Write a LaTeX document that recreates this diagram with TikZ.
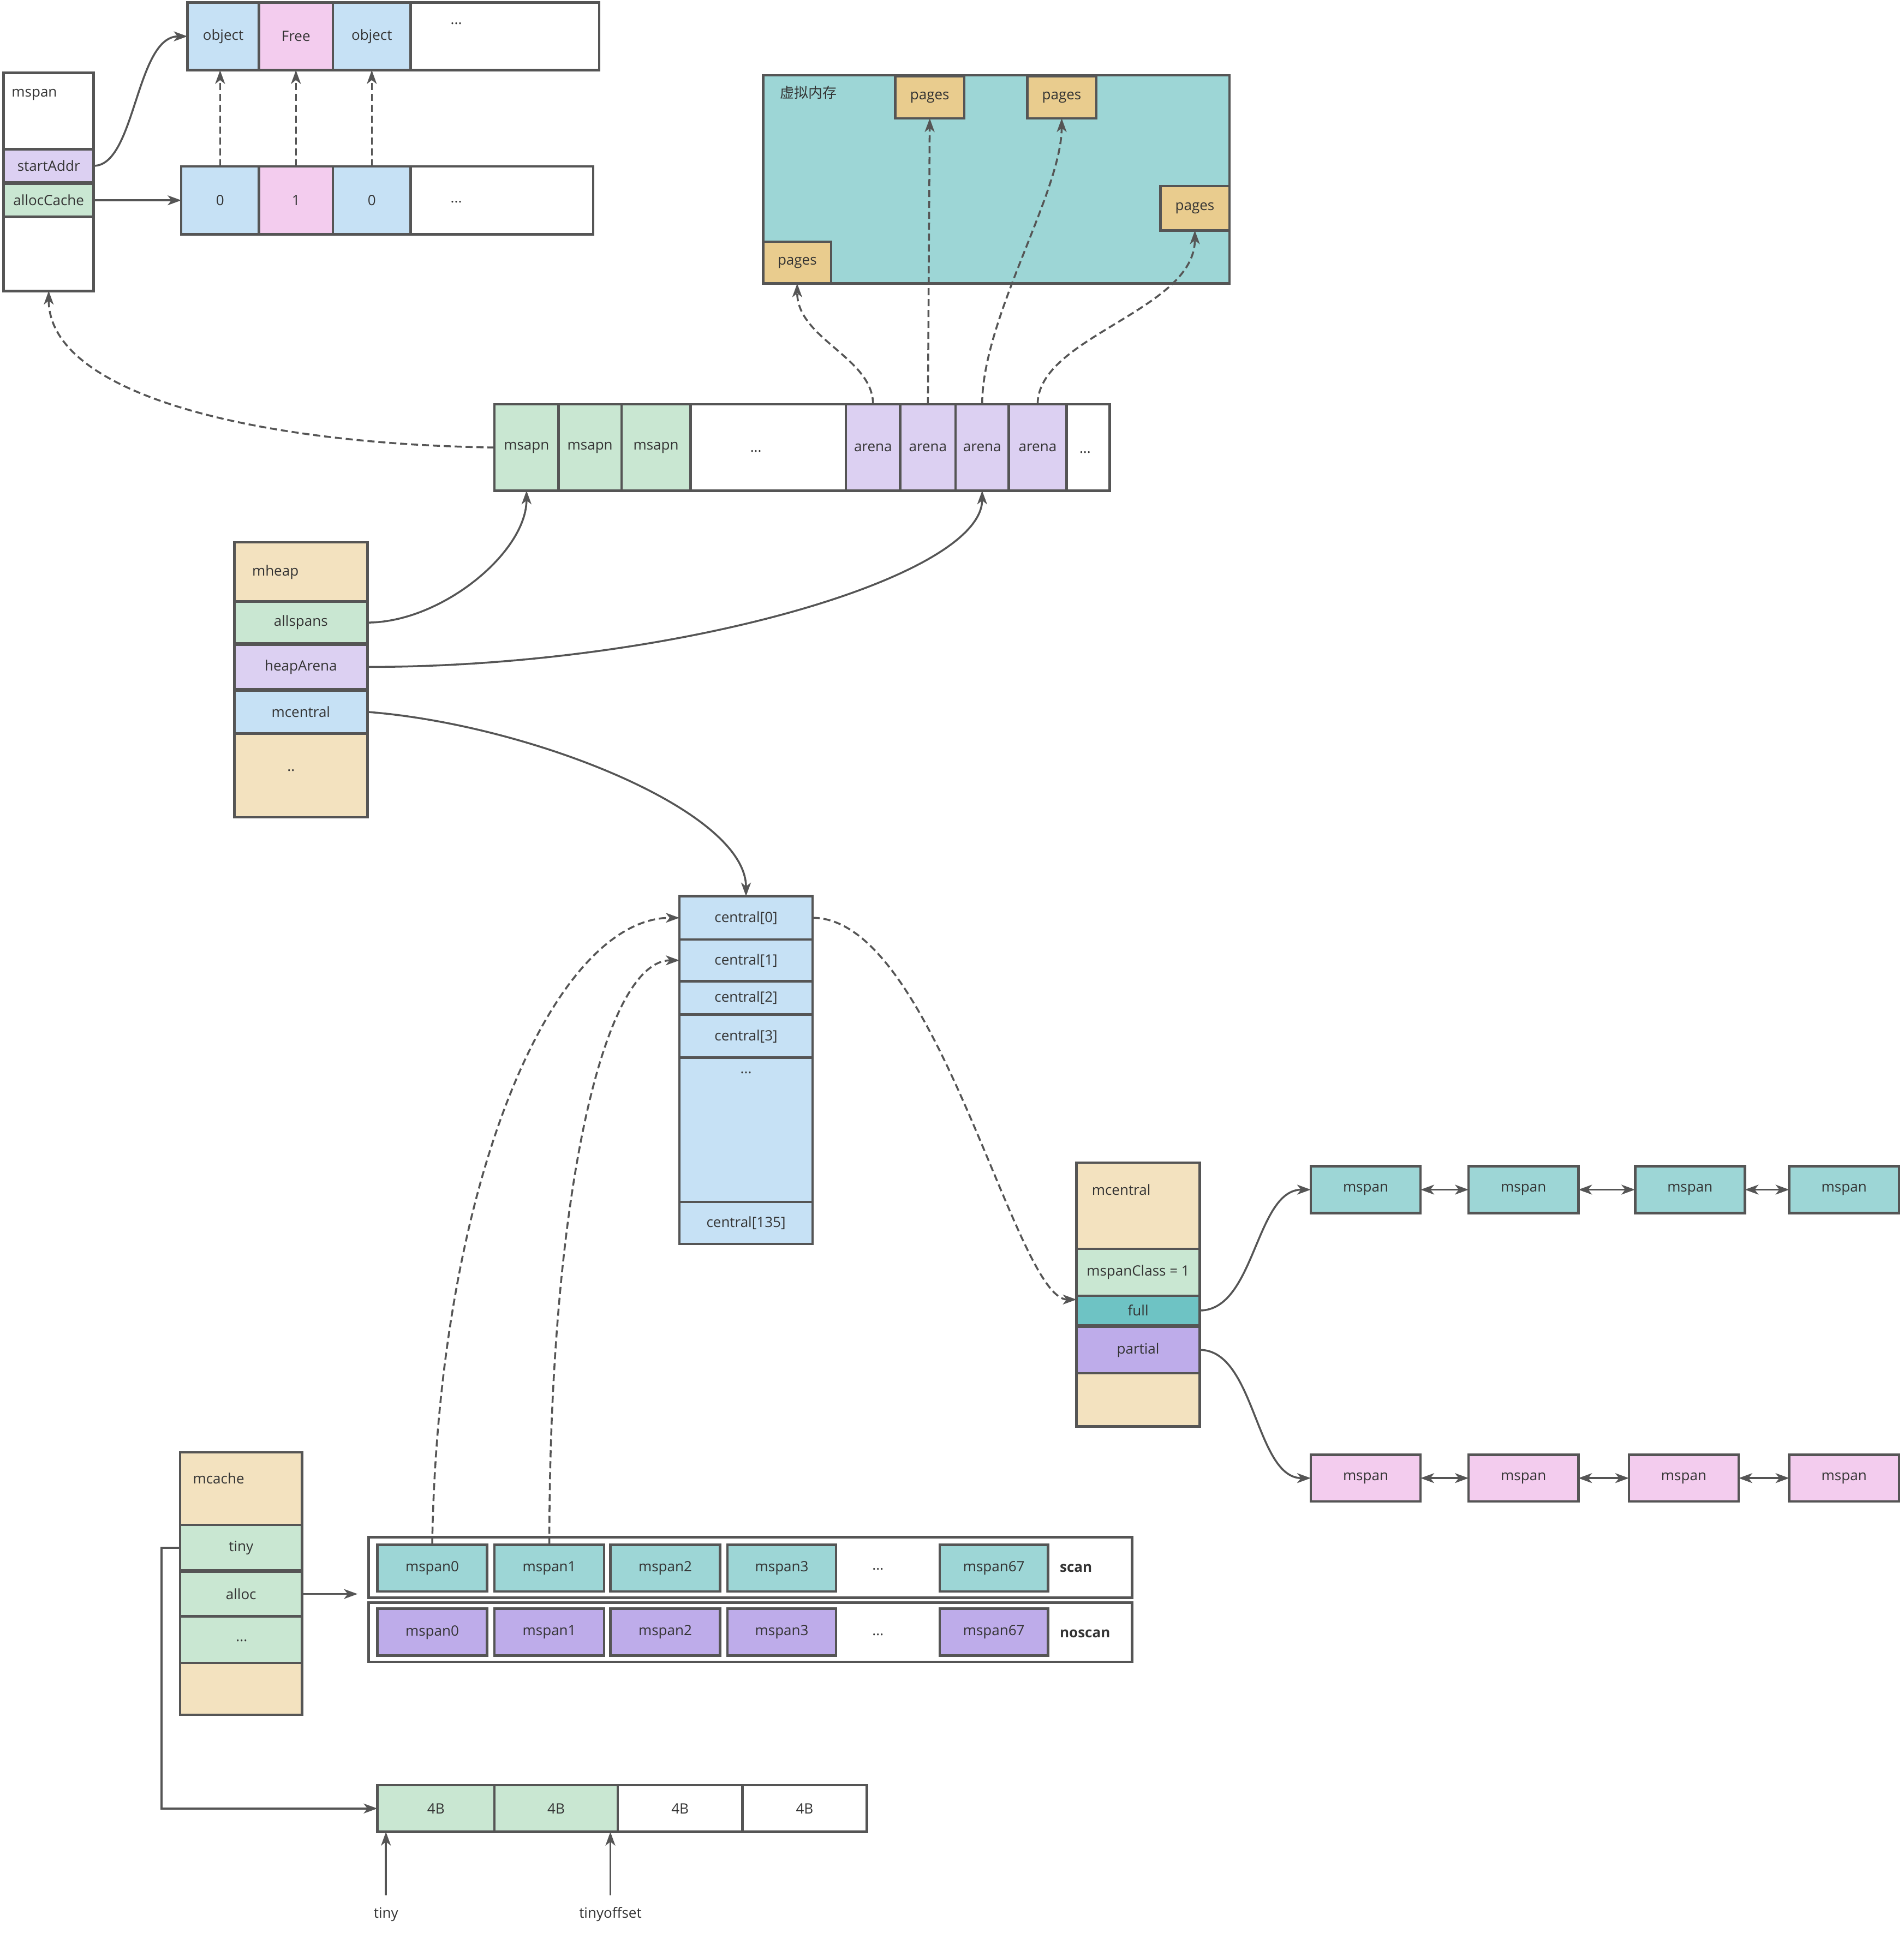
\documentclass[tikz,border=0pt]{standalone}
\usepackage{fontspec}
\setmainfont{Open Sans}
\newfontfamily\cjkfont{Noto Sans CJK SC}
\usetikzlibrary{arrows.meta}
\definecolor{ln}{HTML}{555555}
\definecolor{txt}{HTML}{333333}
\definecolor{cblue}{HTML}{C6E1F5}
\definecolor{cpink}{HTML}{F3CCEE}
\definecolor{cgreen}{HTML}{C9E7D2}
\definecolor{cpurl}{HTML}{DCD0F2}
\definecolor{cbeige}{HTML}{F3E2BF}
\definecolor{cteal}{HTML}{9DD6D6}
\definecolor{cdteal}{HTML}{6EC3C4}
\definecolor{cmpur}{HTML}{BEACEA}
\definecolor{cpage}{HTML}{E9CC8E}
\newcommand\mybox[7]{\node[boxst,fill=#6,minimum width={(#4-#2)*0.2259mm},minimum height={(#5-#3)*0.2259mm}] (#1) at ({(#2+#4)/2},{(#3+#5)/2}) {#7};}
\tikzset{
  boxst/.style={draw=ln,line width=1.3pt,inner sep=0pt,outer sep=0pt,rectangle},
  conn/.style={draw=ln,line width=1pt,-{Stealth[length=2.5mm,width=1.8mm,inset=0.7mm]}},
  dconn/.style={conn,dash pattern=on 1.3mm off 0.7mm},
  dbl/.style={draw=ln,line width=1pt,{Stealth[length=2.5mm,width=1.8mm,inset=0.7mm]}-{Stealth[length=2.5mm,width=1.8mm,inset=0.7mm]}},
  boldlbl/.style={anchor=west,font=\fontsize{7.4}{9}\selectfont\bfseries}
}
\begin{document}
\begin{tikzpicture}[x=0.2259mm,y=-0.2259mm,font=\fontsize{7.4}{9}\selectfont,text=txt]
\useasboundingbox (0,0) rectangle (1544,1568);
% ---------- top-left mspan ----------
\mybox{msp}{3}{59}{76}{236}{white}{}
\node[anchor=west] (msplbl) at (4,77) {mspan};
\mybox{sa}{3}{121}{76}{148}{cpurl}{startAddr}
\mybox{ac}{3}{149}{76}{176}{cgreen}{allocCache}
% object bar
\mybox{o1}{152}{2}{210}{57}{cblue}{object}
\mybox{o2}{210}{2}{270}{57}{cpink}{Free}
\mybox{o3}{270}{2}{333}{57}{cblue}{object}
\mybox{o4}{333}{2}{486}{57}{white}{}
\node (odots) at (370,19) {...};
% bit bar
\mybox{b1}{147}{135}{210}{190}{cblue}{0}
\mybox{b2}{210}{135}{270}{190}{cpink}{1}
\mybox{b3}{270}{135}{333}{190}{cblue}{0}
\mybox{b4}{333}{135}{481}{190}{white}{}
\node (bdots) at (370,164) {...};
\draw[dconn] (b1.north) -- (b1.north |- o1.south);
\draw[dconn] (b2.north) -- (b2.north |- o2.south);
\draw[dconn] (b3.north) -- (b3.north |- o3.south);
\draw[conn] (sa.east) .. controls +(34,0) and +(-42,0) .. (o1.west);
\draw[conn] (ac.east) -- (b1.west);
% ---------- virtual memory ----------
\mybox{vm}{619}{61}{997}{230}{cteal}{}
\node[anchor=west,font={\fontsize{7.4}{9}\cjkfont}] (vmlbl) at (627,75) {虚拟内存};
\mybox{pg1}{726}{62}{782}{96}{cpage}{pages}
\mybox{pg2}{833}{62}{889}{96}{cpage}{pages}
\mybox{pg3}{941}{151}{997}{187}{cpage}{pages}
\mybox{pg4}{619}{196}{674}{230}{cpage}{pages}
% ---------- middle array ----------
\mybox{ma1}{401}{328}{453}{398}{cgreen}{msapn}
\mybox{ma2}{453}{328}{504}{398}{cgreen}{msapn}
\mybox{ma3}{504}{328}{560}{398}{cgreen}{msapn}
\mybox{md1}{560}{328}{686}{398}{white}{}
\node (mddots) at (613,366) {...};
\mybox{ar1}{686}{328}{730}{398}{cpurl}{arena}
\mybox{ar2}{730}{328}{775}{398}{cpurl}{arena}
\mybox{ar3}{775}{328}{818}{398}{cpurl}{arena}
\mybox{ar4}{818}{328}{865}{398}{cpurl}{arena}
\mybox{md2}{865}{328}{900}{398}{white}{}
\node (md2dots) at (880,367) {...};
\draw[dconn] (ma1.west) .. controls +(-201,-3) and +(0,82) .. (msp.south);
\draw[dconn] (ar1.north) .. controls +(0,-38) and +(0,45) .. (pg4.south);
\draw[dconn] (ar2.north) -- (pg1.south);
\draw[dconn] (ar3.north) .. controls +(0,-70) and +(0,60) .. (pg2.south);
\draw[dconn] (ar4.north) .. controls +(0,-55) and +(0,65) .. (pg3.south);
% ---------- mheap ----------
\mybox{mh}{190}{440}{298}{663}{cbeige}{}
\node[anchor=west] (mhlbl) at (199,464) {mheap};
\mybox{als}{190}{488}{298}{522}{cgreen}{allspans}
\mybox{ha}{190}{523}{298}{559}{cpurl}{heapArena}
\mybox{mcf}{190}{560}{298}{595}{cblue}{mcentral}
\node (mhdots) at (236,625) {..};
\draw[conn] (als.east) .. controls +(60,0) and +(0,50) .. (ma1.south);
\draw[conn] (ha.east) .. controls +(250,0) and +(0,70) .. (ar3.south);
% ---------- central array ----------
\mybox{c0}{551}{727}{659}{762}{cblue}{central[0]}
\mybox{c1}{551}{762}{659}{796}{cblue}{central[1]}
\mybox{c2}{551}{796}{659}{823}{cblue}{central[2]}
\mybox{c3}{551}{823}{659}{858}{cblue}{central[3]}
\mybox{cd}{551}{858}{659}{975}{cblue}{}
\node (cdots) at (605,870) {...};
\mybox{c135}{551}{975}{659}{1009}{cblue}{central[135]}
\draw[conn] (mcf.east) .. controls +(130,10) and +(0,-70) .. (c0.north);
% ---------- mcentral (right) ----------
\mybox{mcr}{873}{943}{973}{1157}{cbeige}{}
\node[anchor=west] (mcrlbl) at (880,965) {mcentral};
\mybox{msc}{873}{1013}{973}{1051}{cgreen}{mspanClass = 1}
\mybox{full}{873}{1051}{973}{1075}{cdteal}{full}
\mybox{part}{873}{1076}{973}{1114}{cmpur}{partial}
\draw[dconn] (c0.east) .. controls +(100,0) and +(-50,0) .. ([yshift=2mm]full.west);
% full list
\mybox{fl1}{1063}{946}{1152}{984}{cteal}{mspan}
\mybox{fl2}{1191}{946}{1280}{984}{cteal}{mspan}
\mybox{fl3}{1326}{946}{1415}{984}{cteal}{mspan}
\mybox{fl4}{1451}{946}{1540}{984}{cteal}{mspan}
\draw[dbl] (fl1.east) -- (fl2.west);
\draw[dbl] (fl2.east) -- (fl3.west);
\draw[dbl] (fl3.east) -- (fl4.west);
% partial list
\mybox{pl1}{1063}{1180}{1152}{1218}{cpink}{mspan}
\mybox{pl2}{1191}{1180}{1280}{1218}{cpink}{mspan}
\mybox{pl3}{1321}{1180}{1410}{1218}{cpink}{mspan}
\mybox{pl4}{1451}{1180}{1540}{1218}{cpink}{mspan}
\draw[dbl] (pl1.east) -- (pl2.west);
\draw[dbl] (pl2.east) -- (pl3.west);
\draw[dbl] (pl3.east) -- (pl4.west);
\draw[conn] (full.east) .. controls +(45,0) and +(-45,0) .. (fl1.west);
\draw[conn] (part.east) .. controls +(45,0) and +(-45,0) .. (pl1.west);
% ---------- mcache ----------
\mybox{mca}{146}{1178}{245}{1391}{cbeige}{}
\node[anchor=west] (mcalbl) at (151,1199) {mcache};
\mybox{tiny}{146}{1237}{245}{1274}{cgreen}{tiny}
\mybox{alloc}{146}{1275}{245}{1311}{cgreen}{alloc}
\mybox{mcd}{146}{1311}{245}{1349}{cgreen}{}
\node (mcddots) at (196,1331) {...};
% scan / noscan
\mybox{scan}{299}{1247}{918}{1296}{white}{}
\mybox{noscan}{299}{1300}{918}{1348}{white}{}
\mybox{s0}{306}{1253}{395}{1291}{cteal}{mspan0}
\mybox{s1}{401}{1253}{490}{1291}{cteal}{mspan1}
\mybox{s2}{495}{1253}{584}{1291}{cteal}{mspan2}
\mybox{s3}{590}{1253}{678}{1291}{cteal}{mspan3}
\node (sdots) at (712,1273) {...};
\mybox{s67}{762}{1253}{850}{1291}{cteal}{mspan67}
\node[boldlbl] (scanlbl) at (854,1272) {scan};
\mybox{n0}{306}{1305}{395}{1343}{cmpur}{mspan0}
\mybox{n1}{401}{1305}{490}{1343}{cmpur}{mspan1}
\mybox{n2}{495}{1305}{584}{1343}{cmpur}{mspan2}
\mybox{n3}{590}{1305}{678}{1343}{cmpur}{mspan3}
\node (ndots) at (712,1326) {...};
\mybox{n67}{762}{1305}{850}{1343}{cmpur}{mspan67}
\node[boldlbl] (noscanlbl) at (854,1325) {noscan};
\coordinate (allocend) at (290,1293);
\draw[conn] (alloc.east) -- (allocend);
\draw[dconn] (s0.north) .. controls +(5,-300) and +(-100,0) .. (c0.west);
\draw[dconn] (s1.north) .. controls +(0,-290) and +(-60,0) .. (c1.west);
% ---------- 4B ----------
\mybox{q1}{306}{1448}{401}{1486}{cgreen}{4B}
\mybox{q2}{401}{1448}{501}{1486}{cgreen}{4B}
\mybox{q3}{501}{1448}{602}{1486}{white}{4B}
\mybox{q4}{602}{1448}{703}{1486}{white}{4B}
\draw[conn] (tiny.west) -- ++(-15,0) |- (q1.west);
\node (tinylbl) at (313,1553) {tiny};
\node (offlbl) at (495,1553) {tinyoffset};
\draw[conn] ([yshift=1mm]tinylbl.north) -- (tinylbl.north |- q1.south);
\draw[conn] ([yshift=1mm]offlbl.north) -- (offlbl.north |- q2.south);
\end{tikzpicture}
\end{document}
